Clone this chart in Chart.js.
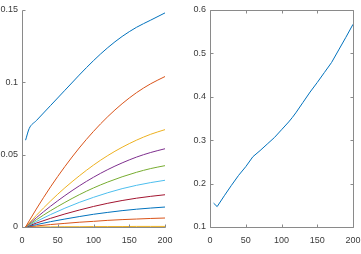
<!DOCTYPE html>
<html lang="en">
<head>
    <meta charset="UTF-8">
    <title>Two panels</title>
    <script src="https://cdn.jsdelivr.net/npm/chart.js"></script>
    <style>
        body { margin: 0; background: #fff; }
        #wrap { position: relative; width: 361px; height: 254px; }
        canvas { position: absolute; top: 0; }
        #leftChart { left: 0; }
        #rightChart { left: 180px; }
    </style>
</head>
<body>
    <div id="wrap">
        <canvas id="leftChart" width="180" height="254"></canvas>
        <canvas id="rightChart" width="181" height="254"></canvas>
    </div>

    <script>
        // left panel data (x positions shared by all ten curves)
        const xLeft = [5, 10, 20, 40, 60, 80, 100, 120, 140, 160, 180, 200];
        const curve1 = [0.060, 0.068, 0.0735, 0.084, 0.0945, 0.105, 0.115, 0.124, 0.1317, 0.138, 0.143, 0.148];
        const curve2 = [0, 0.0042, 0.0124, 0.0278, 0.0418, 0.0546, 0.0661, 0.0763, 0.0852, 0.0928, 0.0990, 0.104];
        const curve3 = [0, 0.0027, 0.0080, 0.0180, 0.0271, 0.0353, 0.0428, 0.0494, 0.0551, 0.0600, 0.0641, 0.0673];
        const curve4 = [0, 0.0022, 0.0064, 0.0144, 0.0217, 0.0284, 0.0344, 0.0397, 0.0443, 0.0483, 0.0515, 0.0541];
        const curve5 = [0, 0.0017, 0.0050, 0.0113, 0.0170, 0.0223, 0.0270, 0.0311, 0.0347, 0.0378, 0.0404, 0.0424];
        const curve6 = [0, 0.0013, 0.0038, 0.0086, 0.0130, 0.0170, 0.0205, 0.0237, 0.0265, 0.0288, 0.0307, 0.0323];
        const curve7 = [0, 0.0009, 0.0027, 0.0060, 0.0090, 0.0117, 0.0142, 0.0164, 0.0183, 0.0199, 0.0212, 0.0223];
        const curve8 = [0, 0.0006, 0.0016, 0.0037, 0.0055, 0.0072, 0.0088, 0.0101, 0.0113, 0.0123, 0.0131, 0.0138];
        const curve9 = [0, 0.0002, 0.0007, 0.0017, 0.0025, 0.0033, 0.0039, 0.0046, 0.0051, 0.0055, 0.0059, 0.0062];
        const curve10 = [0, 0, 0.0001, 0.0001, 0.0002, 0.0002, 0.0003, 0.0003, 0.0003, 0.0004, 0.0004, 0.0004];

        // right panel data
        const xRight = [5, 10, 20, 30, 40, 50, 60, 70, 80, 90, 100, 110, 115, 120, 130, 140, 150, 160, 170, 180, 190, 200];
        const rightValues = [0.155, 0.147, 0.172, 0.196, 0.219, 0.239, 0.262, 0.276, 0.291, 0.306, 0.324, 0.342, 0.352, 0.363, 0.387, 0.411, 0.433, 0.456, 0.479, 0.508, 0.537, 0.567];

        // ticks
        const xTicks = [0, 50, 100, 150, 200];
        const leftYTicks = [0, 0.05, 0.1, 0.15];
        const rightYTicks = [0.1, 0.2, 0.3, 0.4, 0.5, 0.6];

        const lineColors = ['#0072BD', '#D95319', '#EDB120', '#7E2F8E', '#77AC30', '#4DBEEE', '#A2142F'];
        const axisColor = '#8a8a8a';
        const textColor = '#3a3a3a';

        Chart.defaults.font.family = '"Liberation Sans", Arial, sans-serif';
        Chart.defaults.font.size = 9;
        Chart.defaults.color = textColor;

        // matlab style axes: ticks pointing inward, optional box
        const matlabAxes = {
            id: 'matlabAxes',
            afterDraw(chart, args, opts) {
                const ctx = chart.ctx;
                const a = chart.chartArea;
                const xs = chart.scales.x, ys = chart.scales.y;
                const len = 3;
                ctx.save();
                ctx.strokeStyle = axisColor;
                ctx.lineWidth = 1;
                ctx.beginPath();
                const L = Math.round(a.left) + 0.5, R = Math.round(a.right) + 0.5;
                const T = Math.round(a.top) + 0.5, B = Math.round(a.bottom) + 0.5;
                ctx.moveTo(L, T); ctx.lineTo(L, B); ctx.lineTo(R, B);
                if (opts.box) { ctx.lineTo(R, T); ctx.lineTo(L, T); }
                xs.ticks.forEach(t => {
                    const px = Math.round(xs.getPixelForValue(t.value)) + 0.5;
                    ctx.moveTo(px, B); ctx.lineTo(px, B - len);
                    if (opts.box) { ctx.moveTo(px, T); ctx.lineTo(px, T + len); }
                });
                ys.ticks.forEach(t => {
                    const py = Math.round(ys.getPixelForValue(t.value)) + 0.5;
                    ctx.moveTo(L, py); ctx.lineTo(L + len, py);
                    if (opts.box) { ctx.moveTo(R, py); ctx.lineTo(R - len, py); }
                });
                ctx.stroke();
                ctx.restore();
            }
        };

        function makeScales(yTicks, yWidth) {
            return {
                x: {
                    type: 'linear', min: 0, max: 200,
                    afterBuildTicks: s => { s.ticks = xTicks.map(v => ({ value: v })); },
                    afterFit: s => { s.height = 27; s.paddingLeft = 0; s.paddingRight = 0; },
                    grid: { display: false, drawTicks: false },
                    border: { display: false },
                    ticks: { padding: 8, maxRotation: 0, autoSkip: false }
                },
                y: {
                    type: 'linear', min: yTicks[0], max: yTicks[yTicks.length - 1],
                    afterBuildTicks: s => { s.ticks = yTicks.map(v => ({ value: v })); },
                    afterFit: s => { s.width = yWidth; s.paddingTop = 0; s.paddingBottom = 0; },
                    grid: { display: false, drawTicks: false },
                    border: { display: false },
                    ticks: { padding: 4, autoSkip: false, callback: v => String(parseFloat(v.toFixed(2))) }
                }
            };
        }

        const leftCurves = [curve1, curve2, curve3, curve4, curve5, curve6, curve7, curve8, curve9, curve10];

        new Chart(document.getElementById('leftChart'), {
            type: 'line',
            data: {
                datasets: leftCurves.map((c, i) => ({
                    data: c.map((v, k) => ({ x: xLeft[k], y: v })),
                    borderColor: lineColors[i % lineColors.length],
                    borderWidth: 1,
                    pointRadius: 0,
                    cubicInterpolationMode: 'monotone',
                    fill: false
                }))
            },
            options: {
                responsive: false,
                animation: false,
                devicePixelRatio: 1,
                layout: { padding: { top: 10, right: 15, left: 0, bottom: 0 } },
                plugins: { legend: { display: false }, tooltip: { enabled: false }, matlabAxes: { box: false } },
                scales: makeScales(leftYTicks, 22)
            },
            plugins: [matlabAxes]
        });

        new Chart(document.getElementById('rightChart'), {
            type: 'line',
            data: {
                datasets: [{
                    data: rightValues.map((v, k) => ({ x: xRight[k], y: v })),
                    borderColor: lineColors[0],
                    borderWidth: 1,
                    pointRadius: 0,
                    tension: 0,
                    fill: false
                }]
            },
            options: {
                responsive: false,
                animation: false,
                devicePixelRatio: 1,
                layout: { padding: { top: 10, right: 8, left: 0, bottom: 0 } },
                plugins: { legend: { display: false }, tooltip: { enabled: false }, matlabAxes: { box: true } },
                scales: makeScales(rightYTicks, 30)
            },
            plugins: [matlabAxes]
        });
    </script>
</body>
</html>
